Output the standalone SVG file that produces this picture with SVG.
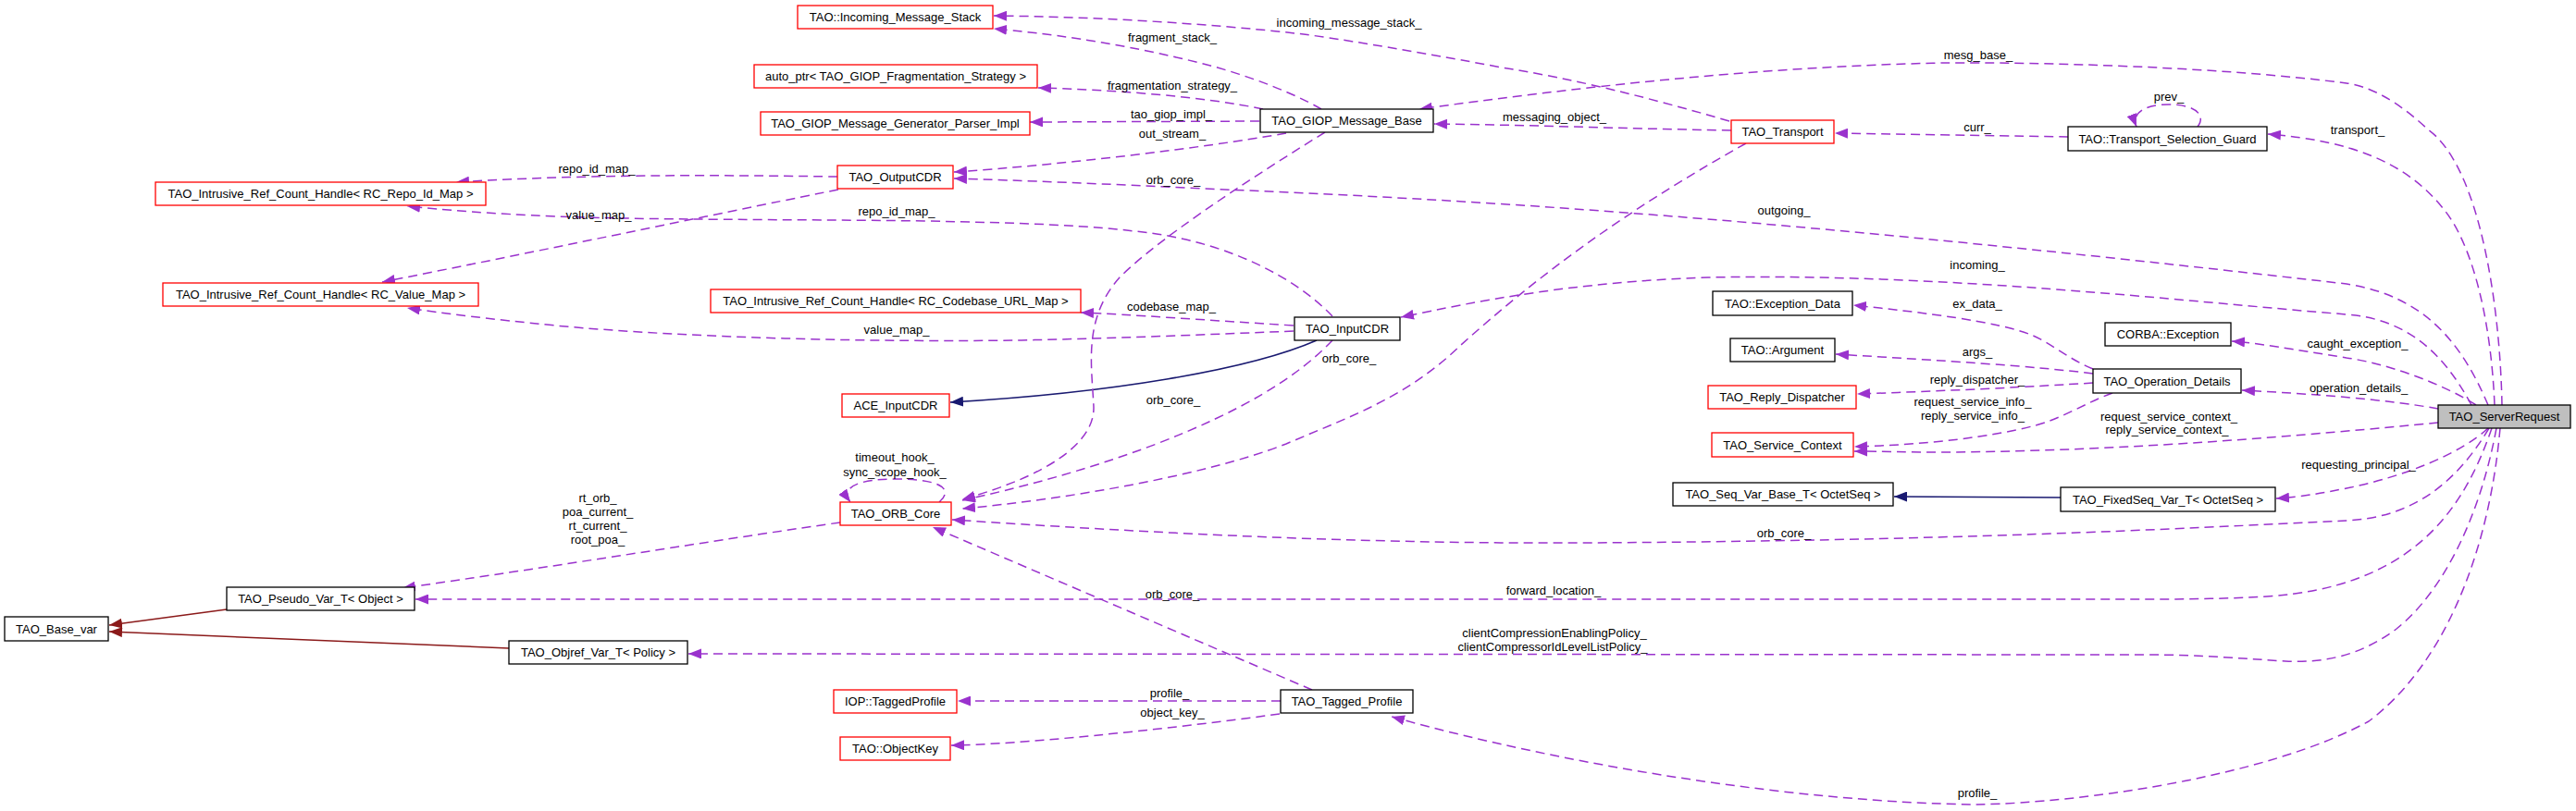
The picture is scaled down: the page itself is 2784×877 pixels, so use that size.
<svg xmlns="http://www.w3.org/2000/svg" width="2784" height="877" viewBox="0 0 2784 877">
<style>
text{font-family:"Liberation Sans",Arial,sans-serif;font-size:13px;fill:#000}
.node text{text-anchor:middle}
.node rect{fill:#fff;stroke-width:1.3}
.r rect{stroke:#ff0000}
.k rect{stroke:#000}
.g rect{fill:#bfbfbf;stroke:#000}
.e{fill:none;stroke:#9a32cd;stroke-width:1.5;stroke-dasharray:10,6;marker-end:url(#ap)}
.ir{fill:none;stroke:#8b1a1a;stroke-width:1.5;marker-end:url(#ar)}
.ib{fill:none;stroke:#191970;stroke-width:1.5;marker-end:url(#ab)}
.lbl text{text-anchor:middle}
</style>
<defs>
<marker id="ap" markerUnits="userSpaceOnUse" markerWidth="15" markerHeight="11" refX="14" refY="5.5" orient="auto"><path d="M0,0 L14,5.5 L0,11 z" fill="#9a32cd"/></marker>
<marker id="ar" markerUnits="userSpaceOnUse" markerWidth="15" markerHeight="11" refX="14" refY="5.5" orient="auto"><path d="M0,0 L14,5.5 L0,11 z" fill="#8b1a1a"/></marker>
<marker id="ab" markerUnits="userSpaceOnUse" markerWidth="15" markerHeight="11" refX="14" refY="5.5" orient="auto"><path d="M0,0 L14,5.5 L0,11 z" fill="#191970"/></marker>
</defs>
<rect width="2784" height="877" fill="#fff"/>
<g id="edges">
<path class="e" d="M905,191 C820,190 650,187 493,197"/>
<path class="e" d="M906,205 C820,222 600,268 413,305"/>
<path class="e" d="M1440,342 C1400,300 1330,265 1250,253 C1180,243 1100,241 1000,239 C850,237 700,238 600,234 C530,231 480,227 440,223"/>
<path class="e" d="M1398,358 C1300,362 1200,366 1100,368 C950,370 750,366 600,352 C530,345 480,339 440,333"/>
<path class="e" d="M1398,352 C1300,346 1220,340 1168,338"/>
<path class="ib" d="M1423,368 C1350,400 1200,425 1027,435"/>
<path class="e" d="M1428,118 C1390,96 1330,75 1280,64 C1200,45 1130,36 1074,31"/>
<path class="e" d="M1869,131 C1780,105 1700,85 1623,73 C1500,50 1420,38 1400,36 C1300,25 1180,18 1074,17"/>
<path class="e" d="M1365,118 C1300,104 1200,97 1122,95"/>
<path class="e" d="M1361,131 L1113,132"/>
<path class="e" d="M1390,144 C1300,160 1150,178 1031,186"/>
<path class="e" d="M2689,438 C2660,370 2620,320 2536,307 C2300,280 2000,248 1757,230 C1600,218 1450,210 1300,204 C1200,199 1100,195 1031,193"/>
<path class="e" d="M2671,438 C2640,380 2600,345 2536,340 C2350,325 2100,295 1846,300 C1700,305 1600,325 1514,343"/>
<path class="e" d="M2704,438 C2702,330 2680,180 2624,140 C2590,108 2560,93 2536,90 C2400,72 2200,67 2100,68 C1900,72 1700,95 1534,118"/>
<path class="e" d="M1871,141 C1750,139 1650,135 1550,134"/>
<path class="e" d="M2235,148 C2180,147 2100,146 1983,144"/>
<path class="e" d="M2375,137 C2384,126 2375,113 2344,113 C2318,113 2303,122 2309,137"/>
<path class="e" d="M2696,438 C2692,340 2670,260 2640,225 C2600,175 2540,152 2451,145"/>
<path class="e" d="M2676,438 C2640,415 2580,393 2536,387 C2480,378 2440,371 2412,369"/>
<path class="e" d="M2635,442 C2580,432 2500,426 2423,422"/>
<path class="e" d="M2262,399 C2235,388 2215,370 2195,362 C2160,348 2080,338 2003,330"/>
<path class="e" d="M2262,404 C2200,396 2100,390 1984,383"/>
<path class="e" d="M2262,414 C2200,418 2100,423 2007,426"/>
<path class="e" d="M2283,425 C2255,435 2230,452 2200,460 C2150,473 2080,481 2004,483"/>
<path class="e" d="M2635,457 C2500,470 2300,488 2100,489 C2060,489 2030,488 2004,488"/>
<path class="ib" d="M2227,538 L2047,537"/>
<path class="e" d="M2689,463 C2660,490 2600,515 2536,528 C2510,533 2490,537 2460,539"/>
<path class="e" d="M2690,463 C2650,530 2600,560 2536,563 C2350,572 2100,585 1712,587 C1500,588 1300,580 1029,562"/>
<path class="e" d="M2693,463 C2660,560 2600,635 2450,645 C2400,648 2350,648 2300,648 L449,648"/>
<path class="e" d="M2698,463 C2680,560 2640,640 2590,680 C2550,710 2510,717 2470,715 C2420,712 2380,708 2318,708 L744,707"/>
<path class="e" d="M2702,463 C2690,600 2640,720 2560,780 C2450,840 2250,868 2137,870 C1950,868 1700,830 1504,775"/>
<path class="e" d="M1418,746 L1008,570"/>
<path class="e" d="M1384,758 L1035,758"/>
<path class="e" d="M1383,772 C1250,790 1100,805 1028,806"/>
<path class="e" d="M1432,143 C1340,200 1250,260 1210,300 C1170,345 1180,395 1182,440 C1183,480 1130,515 1040,540"/>
<path class="e" d="M1440,368 C1400,410 1340,445 1250,480 C1170,510 1100,528 1040,541"/>
<path class="e" d="M1887,155 C1753,230 1660,300 1579,373 C1520,430 1460,450 1390,480 C1300,515 1150,540 1040,550"/>
<path class="e" d="M1015,543 C1030,530 1020,518 968,518 C925,518 908,528 919,543"/>
<path class="e" d="M908,565 C800,580 650,605 435,636"/>
<path class="ir" d="M245,659 L118,676"/>
<path class="ir" d="M550,701 L118,683"/>
</g>
<g id="labels" class="lbl">
<text x="645" y="187">repo_id_map_</text>
<text x="647" y="237">value_map_</text>
<text x="646" y="543">rt_orb_</text>
<text x="646" y="558">poa_current_</text>
<text x="646" y="573">rt_current_</text>
<text x="646" y="588">root_poa_</text>
<text x="1267" y="45">fragment_stack_</text>
<text x="1267" y="97">fragmentation_strategy_</text>
<text x="1266" y="128">tao_giop_impl_</text>
<text x="1267" y="149">out_stream_</text>
<text x="1268" y="199">orb_core_</text>
<text x="969" y="233">repo_id_map_</text>
<text x="1266" y="336">codebase_map_</text>
<text x="969" y="361">value_map_</text>
<text x="1268" y="437">orb_core_</text>
<text x="967" y="499">timeout_hook_</text>
<text x="967" y="515">sync_scope_hook_</text>
<text x="1267" y="647">orb_core_</text>
<text x="1264" y="754">profile_</text>
<text x="1267" y="775">object_key_</text>
<text x="1458" y="29">incoming_message_stack_</text>
<text x="1680" y="131">messaging_object_</text>
<text x="1928" y="232">outgoing_</text>
<text x="1458" y="392">orb_core_</text>
<text x="1928" y="581">orb_core_</text>
<text x="1679" y="643">forward_location_</text>
<text x="1680" y="689">clientCompressionEnablingPolicy_</text>
<text x="1678" y="704">clientCompressorIdLevelListPolicy_</text>
<text x="2138" y="64">mesg_base_</text>
<text x="2137" y="142">curr_</text>
<text x="2344" y="109">prev_</text>
<text x="2548" y="145">transport_</text>
<text x="2137" y="291">incoming_</text>
<text x="2137" y="333">ex_data_</text>
<text x="2137" y="385">args_</text>
<text x="2137" y="415">reply_dispatcher_</text>
<text x="2132" y="439">request_service_info_</text>
<text x="2132" y="454">reply_service_info_</text>
<text x="2548" y="376">caught_exception_</text>
<text x="2549" y="424">operation_details_</text>
<text x="2344" y="455">request_service_context_</text>
<text x="2342" y="469">reply_service_context_</text>
<text x="2549" y="507">requesting_principal_</text>
<text x="2137" y="862">profile_</text>
</g>
<g id="n_incoming_stack" class="node r"><rect x="862" y="6" width="211" height="25"/><text x="967.5" y="23">TAO::Incoming_Message_Stack</text></g>
<g id="n_autoptr" class="node r"><rect x="815" y="70" width="306" height="25"/><text x="968" y="87">auto_ptr&lt; TAO_GIOP_Fragmentation_Strategy &gt;</text></g>
<g id="n_parser_impl" class="node r"><rect x="822" y="121" width="291" height="25"/><text x="967.5" y="138">TAO_GIOP_Message_Generator_Parser_Impl</text></g>
<g id="n_outputcdr" class="node r"><rect x="905" y="179" width="125" height="25"/><text x="967.5" y="196">TAO_OutputCDR</text></g>
<g id="n_repo_map" class="node r"><rect x="168" y="197" width="357" height="25"/><text x="346.5" y="214">TAO_Intrusive_Ref_Count_Handle&lt; RC_Repo_Id_Map &gt;</text></g>
<g id="n_value_map" class="node r"><rect x="176" y="306" width="341" height="25"/><text x="346.5" y="323">TAO_Intrusive_Ref_Count_Handle&lt; RC_Value_Map &gt;</text></g>
<g id="n_codebase_map" class="node r"><rect x="768" y="313" width="400" height="25"/><text x="968" y="330">TAO_Intrusive_Ref_Count_Handle&lt; RC_Codebase_URL_Map &gt;</text></g>
<g id="n_ace_inputcdr" class="node r"><rect x="910" y="426" width="116" height="25"/><text x="968" y="443">ACE_InputCDR</text></g>
<g id="n_orb_core" class="node r"><rect x="908" y="543" width="120" height="25"/><text x="968" y="560">TAO_ORB_Core</text></g>
<g id="n_base_var" class="node k"><rect x="5" y="667" width="112" height="26"/><text x="61" y="685">TAO_Base_var</text></g>
<g id="n_pseudo_var" class="node k"><rect x="245" y="635" width="203" height="25"/><text x="346.5" y="652">TAO_Pseudo_Var_T&lt; Object &gt;</text></g>
<g id="n_objref_var" class="node k"><rect x="550" y="693" width="193" height="25"/><text x="646.5" y="710">TAO_Objref_Var_T&lt; Policy &gt;</text></g>
<g id="n_iop_profile" class="node r"><rect x="901" y="746" width="133" height="25"/><text x="967.5" y="763">IOP::TaggedProfile</text></g>
<g id="n_objectkey" class="node r"><rect x="908" y="797" width="119" height="25"/><text x="967.5" y="814">TAO::ObjectKey</text></g>
<g id="n_giop_base" class="node k"><rect x="1362" y="118" width="187" height="25"/><text x="1455.5" y="135">TAO_GIOP_Message_Base</text></g>
<g id="n_inputcdr" class="node k"><rect x="1399" y="343" width="114" height="25"/><text x="1456" y="360">TAO_InputCDR</text></g>
<g id="n_tagged_profile" class="node k"><rect x="1384" y="746" width="143" height="25"/><text x="1455.5" y="763">TAO_Tagged_Profile</text></g>
<g id="n_transport" class="node r"><rect x="1871" y="130" width="111" height="25"/><text x="1926.5" y="147">TAO_Transport</text></g>
<g id="n_exception_data" class="node k"><rect x="1851" y="315" width="151" height="26"/><text x="1926.5" y="333">TAO::Exception_Data</text></g>
<g id="n_argument" class="node k"><rect x="1870" y="366" width="113" height="25"/><text x="1926.5" y="383">TAO::Argument</text></g>
<g id="n_reply_dispatcher" class="node r"><rect x="1846" y="417" width="160" height="25"/><text x="1926" y="434">TAO_Reply_Dispatcher</text></g>
<g id="n_service_context" class="node r"><rect x="1850" y="468" width="153" height="26"/><text x="1926.5" y="486">TAO_Service_Context</text></g>
<g id="n_seq_var_base" class="node k"><rect x="1808" y="522" width="238" height="25"/><text x="1927" y="539">TAO_Seq_Var_Base_T&lt; OctetSeq &gt;</text></g>
<g id="n_tsg" class="node k"><rect x="2235" y="137" width="215" height="26"/><text x="2342.5" y="155">TAO::Transport_Selection_Guard</text></g>
<g id="n_corba_exception" class="node k"><rect x="2275" y="349" width="136" height="25"/><text x="2343" y="366">CORBA::Exception</text></g>
<g id="n_operation_details" class="node k"><rect x="2262" y="399" width="160" height="26"/><text x="2342" y="417">TAO_Operation_Details</text></g>
<g id="n_fixedseq_var" class="node k"><rect x="2227" y="527" width="232" height="26"/><text x="2343" y="545">TAO_FixedSeq_Var_T&lt; OctetSeq &gt;</text></g>
<g id="n_server_request" class="node g"><rect x="2635" y="438" width="143" height="25"/><text x="2706.5" y="455">TAO_ServerRequest</text></g>
</svg>
